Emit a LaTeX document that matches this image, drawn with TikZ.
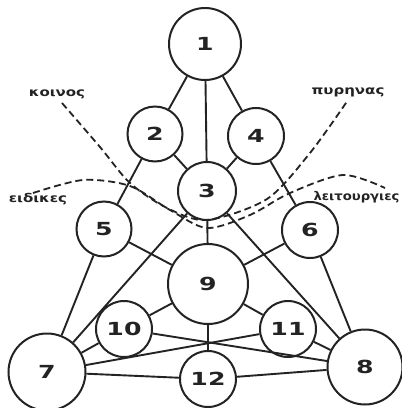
\documentclass[tikz,border=0pt]{standalone}
\usepackage{fontspec}
\usepackage{tikz}
\setmainfont{DejaVu Sans}
\newfontfamily\numfont[FakeStretch=1.4]{DejaVu Sans}
\newfontfamily\lblfont[FakeStretch=1.25]{DejaVu Sans}
\newfontfamily\narrowfont[FakeStretch=1.1]{DejaVu Sans}
\definecolor{ink}{RGB}{35, 35, 35}

\begin{document}
\begin{tikzpicture}[x=1pt,y=-1pt,
  circ/.style={circle, draw=ink, line width=2pt, fill=white, inner sep=0pt,
    font=\numfont\bfseries\fontsize{18}{18}\selectfont, text=ink},
  link/.style={draw=ink, line width=1.9pt},
  bound/.style={draw=ink, line width=1.8pt, dash pattern=on 7pt off 4pt},
  lbl/.style={font=\lblfont\bfseries\fontsize{12}{12}\selectfont, text=ink}]
\useasboundingbox (0,0) rectangle (402,408);
% Circles
\node[circ, minimum size=72pt] (n1) at (205,44) {1};
\node[circ, minimum size=55pt] (n2) at (155,134) {2};
\node[circ, minimum size=58pt] (n3) at (207,191) {3};
\node[circ, minimum size=56pt] (n4) at (256,136) {4};
\node[circ, minimum size=55pt] (n5) at (104,229) {5};
\node[circ, minimum size=56pt] (n6) at (310,230) {6};
\node[circ, minimum size=77pt] (n7) at (47,372) {7};
\node[circ, minimum size=75pt] (n8) at (365,367) {8};
\node[circ, minimum size=80pt] (n9) at (208,284) {9};
\node[circ, minimum size=56pt] (n10) at (124,329) {10};
\node[circ, minimum size=56pt] (n11) at (288,329) {11};
\node[circ, minimum size=56pt] (n12) at (208,379) {12};
% Links
\foreach \a/\b in {n1/n2, n1/n3, n1/n4, n2/n3, n4/n3, n2/n5, n4/n6,
  n3/n9, n3/n7, n3/n8, n5/n7, n6/n8, n5/n9, n6/n9, n9/n10, n9/n11,
  n9/n12, n10/n7, n11/n8, n10/n8, n11/n7, n7/n12, n12/n8}
  \path[link] (\a) -- (\b);
% Boundaries
\draw[bound] plot[smooth] coordinates {(62,103) (100,147) (130,183) (167,208)
  (207,220) (267,199) (310,153) (348,100)};
\draw[bound] plot[smooth] coordinates {(33,193) (83,180) (130,186) (170,210)
  (207,228) (250,215) (290,193) (343,175) (385,188)};
% Labels
\node[lbl] (koinos) at (57,94) {κοινος};
\node[lbl] (pyrinas) at (348,92) {πυρηνας};
\node[lbl] (eidikes) at (38,199) {ειδικες};
\node[lbl, font=\narrowfont\bfseries\fontsize{12}{12}\selectfont, anchor=west]
  (leitourgies) at (310,197) {λειτουργιες};
\end{tikzpicture}
\end{document}
